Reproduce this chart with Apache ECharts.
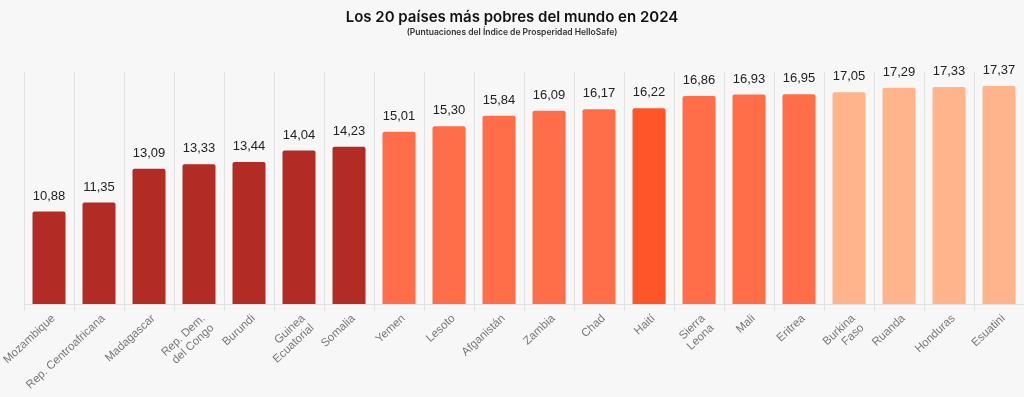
<!DOCTYPE html>
<html>
<head>
<meta charset="utf-8">
<script src="https://cdn.jsdelivr.net/npm/echarts@6/dist/echarts.min.js"></script>
<style>
    html, body { margin: 0; padding: 0; background: #f7f7f7; }
    #chart { width: 1024px; height: 397px; }
</style>
</head>
<body>
<div id="chart"></div>
<script>
// datos
const paises = ['Mozambique', 'Rep. Centroafricana', 'Madagascar', 'Rep. Dem.\ndel Congo', 'Burundi',
    'Guinea\nEcuatorial', 'Somalia', 'Yemen', 'Lesoto', 'Afganistán', 'Zambia', 'Chad', 'Haití',
    'Sierra\nLeona', 'Mali', 'Eritrea', 'Burkina\nFaso', 'Ruanda', 'Honduras', 'Esuatini'];
const puntuaciones = [10.88, 11.35, 13.09, 13.33, 13.44, 14.04, 14.23, 15.01, 15.30, 15.84,
    16.09, 16.17, 16.22, 16.86, 16.93, 16.95, 17.05, 17.29, 17.33, 17.37];
const destacado = 'Haití';

// colores por tramo
const colorTramo = (v, name) => {
    if (name === destacado) return '#ff5529';
    if (v < 15) return '#b22b24';
    if (v <= 17) return '#ff6e48';
    return '#ffb48b';
};

const chart = echarts.init(document.getElementById('chart'));
chart.setOption({
    backgroundColor: '#f7f7f7',
    animation: false,
    title: {
        text: 'Los 20 países más pobres del mundo en 2024',
        subtext: '(Puntuaciones del Índice de Prosperidad HelloSafe)',
        left: 'center',
        top: 5,
        itemGap: 3,
        textStyle: { fontFamily: 'Inter', fontSize: 15, fontWeight: 600, color: '#111' },
        subtextStyle: { fontFamily: 'Inter', fontSize: 8.5, fontWeight: 600, color: '#333' }
    },
    grid: { left: 24, right: 0, top: 72, bottom: 93, outerBoundsMode: 'none', containLabel: false },
    xAxis: {
        type: 'category',
        data: paises,
        axisLine: { lineStyle: { color: '#e2e2e2' } },
        axisTick: { show: true, length: 7, interval: 0, lineStyle: { color: '#e2e2e2' } },
        splitLine: { show: true, interval: 0, lineStyle: { color: '#e2e2e2' } },
        axisLabel: {
            interval: 0,
            rotate: 43,
            margin: 8,
            verticalAlign: 'top',
            fontFamily: 'Liberation Sans',
            fontSize: 11.5,
            color: '#777',
            lineHeight: 13
        }
    },
    yAxis: {
        type: 'value',
        min: 6.1,
        max: 18.1,
        show: false,
        splitLine: { show: false }
    },
    series: [{
        type: 'bar',
        barWidth: '66%',
        data: puntuaciones,
        itemStyle: {
            borderRadius: [2, 2, 0, 0],
            color: p => colorTramo(p.value, paises[p.dataIndex])
        },
        label: {
            show: true,
            position: 'top',
            distance: 9,
            fontFamily: 'Liberation Sans',
            fontSize: 13,
            color: '#222',
            formatter: p => p.value.toFixed(2).replace('.', ',')
        }
    }]
});
</script>
</body>
</html>
